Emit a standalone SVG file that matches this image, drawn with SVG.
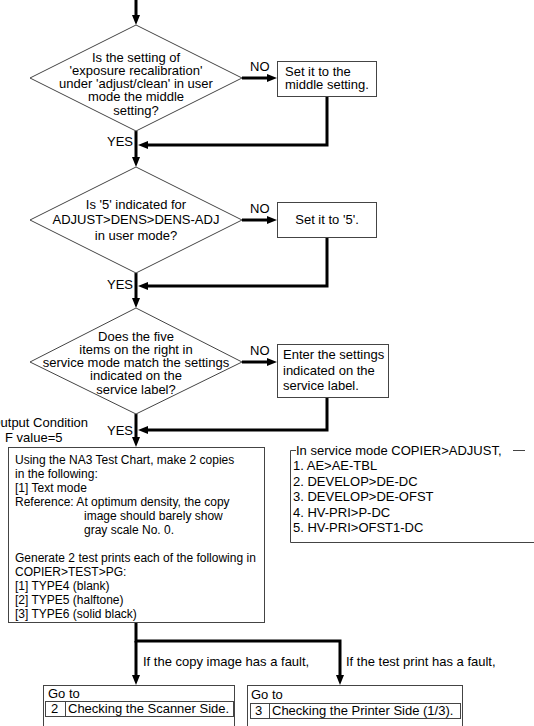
<svg xmlns="http://www.w3.org/2000/svg" width="534" height="726" viewBox="0 0 534 726">
<style>
text{font-family:"Liberation Sans",Arial,Helvetica,sans-serif;fill:#000}
.t13{font-size:13px}
.t12{font-size:12px}
.c{text-anchor:middle}
.shape{fill:#fff;stroke:#444;stroke-width:1}
.frame{fill:none;stroke:#444;stroke-width:1}
.conn{fill:none;stroke:#000;stroke-width:3}
</style>
<defs>
<marker id="ah" markerUnits="userSpaceOnUse" markerWidth="10" markerHeight="8" refX="3" refY="4" orient="auto">
<path d="M0,0 L10,4 L0,8 z" fill="#000"/>
</marker>
</defs>
<rect width="534" height="726" fill="#fff"/>

<g id="connectors">
<line class="conn" x1="136" y1="0" x2="136" y2="18" marker-end="url(#ah)"/>
<line class="conn" x1="242" y1="78" x2="270" y2="78" marker-end="url(#ah)"/>
<polyline class="conn" points="327,96 327,145 145,145" marker-end="url(#ah)"/>
<line class="conn" x1="136" y1="131" x2="136" y2="160" marker-end="url(#ah)"/>
<line class="conn" x1="242" y1="220" x2="270" y2="220" marker-end="url(#ah)"/>
<polyline class="conn" points="327,238 327,286 145,286" marker-end="url(#ah)"/>
<line class="conn" x1="136" y1="273" x2="136" y2="301" marker-end="url(#ah)"/>
<line class="conn" x1="242" y1="362" x2="270" y2="362" marker-end="url(#ah)"/>
<polyline class="conn" points="327,398 327,430 145,430" marker-end="url(#ah)"/>
<line class="conn" x1="136" y1="414" x2="136" y2="440" marker-end="url(#ah)"/>
<polyline class="conn" points="136,623 136,641 340,641 340,678" marker-end="url(#ah)"/>
<line class="conn" x1="136" y1="641" x2="136" y2="678" marker-end="url(#ah)"/>
<text class="t13" x="250" y="71">NO</text>
<text class="t13" x="250" y="213">NO</text>
<text class="t13" x="250" y="355">NO</text>
<text class="t13" x="107" y="146">YES</text>
<text class="t13" x="107" y="289">YES</text>
<text class="t13" x="107" y="435">YES</text>
<text class="t13" x="143" y="666">If the copy image has a fault,</text>
<text class="t13" x="346" y="666">If the test print has a fault,</text>
</g>

<g id="d1">
<polygon class="shape" points="136,25 242,78 136,131 30,78"/>
<text class="t13 c" x="136" y="61.5">Is the setting of</text>
<text class="t13 c" x="136" y="74.8">'exposure recalibration'</text>
<text class="t13 c" x="136" y="88.1">under 'adjust/clean' in user</text>
<text class="t13 c" x="136" y="101.4">mode the middle</text>
<text class="t13 c" x="136" y="114.7">setting?</text>
</g>

<g id="b1">
<rect class="shape" x="277.5" y="61.5" width="99" height="35"/>
<text class="t13" x="285" y="75.5">Set it to the</text>
<text class="t13" x="285" y="89">middle setting.</text>
</g>

<g id="d2">
<polygon class="shape" points="136,167 242,220 136,273 30,220"/>
<text class="t13 c" x="136" y="208.5">Is '5' indicated for</text>
<text class="t13 c" x="136" y="224">ADJUST&gt;DENS&gt;DENS-ADJ</text>
<text class="t13 c" x="136" y="239.5">in user mode?</text>
</g>

<g id="b2">
<rect class="shape" x="277.5" y="202.5" width="99" height="35"/>
<text class="t13 c" x="327" y="224">Set it to '5'.</text>
</g>

<g id="d3">
<polygon class="shape" points="136,308 242,362 136,414 30,362"/>
<text class="t13 c" x="136" y="340.5">Does the five</text>
<text class="t13 c" x="136" y="353.8">items on the right in</text>
<text class="t13 c" x="136" y="367">service mode match the settings</text>
<text class="t13 c" x="136" y="380.3">indicated on the</text>
<text class="t13 c" x="136" y="393.6">service label?</text>
</g>

<g id="b3">
<rect class="shape" x="277.5" y="344.5" width="111" height="53"/>
<text class="t13" x="283" y="359">Enter the settings</text>
<text class="t13" x="283" y="375">indicated on the</text>
<text class="t13" x="283" y="390">service label.</text>
</g>

<g id="output-condition">
<text class="t13" x="88" y="427" text-anchor="end">Output Condition</text>
<text class="t13" x="5" y="442">F value=5</text>
</g>

<g id="b4">
<rect class="shape" x="8.5" y="447.5" width="256" height="175"/>
<text class="t12" x="15" y="464">Using the NA3 Test Chart, make 2 copies</text>
<text class="t12" x="15" y="478">in the following:</text>
<text class="t12" x="15" y="492">[1] Text mode</text>
<text class="t12" x="15" y="506">Reference: At optimum density, the copy</text>
<text class="t12" x="84" y="520">image should barely show</text>
<text class="t12" x="84" y="534">gray scale No. 0.</text>
<text class="t12" x="15" y="562">Generate 2 test prints each of the following in</text>
<text class="t12" x="15" y="576">COPIER&gt;TEST&gt;PG:</text>
<text class="t12" x="15" y="590">[1] TYPE4 (blank)</text>
<text class="t12" x="15" y="604">[2] TYPE5 (halftone)</text>
<text class="t12" x="15" y="618">[3] TYPE6 (solid black)</text>
</g>

<g id="b5">
<path class="frame" d="M296,450.5 H290.5 V542.5 H540 M513,450.5 H525"/>
<text class="t13" x="296" y="455">In service mode COPIER&gt;ADJUST,</text>
<text class="t13" x="293" y="470">1. AE&gt;AE-TBL</text>
<text class="t13" x="293" y="486">2. DEVELOP&gt;DE-DC</text>
<text class="t13" x="293" y="501">3. DEVELOP&gt;DE-OFST</text>
<text class="t13" x="293" y="517">4. HV-PRI&gt;P-DC</text>
<text class="t13" x="293" y="532">5. HV-PRI&gt;OFST1-DC</text>
</g>

<g id="b6">
<rect class="shape" x="43.5" y="685.5" width="191" height="50"/>
<text class="t13" x="48" y="698">Go to</text>
<rect class="frame" x="45.5" y="701.5" width="188" height="15"/>
<line class="frame" x1="65.5" y1="701.5" x2="65.5" y2="716.5"/>
<text class="t13" x="51" y="713">2</text>
<text class="t13" x="68" y="713">Checking the Scanner Side.</text>
</g>

<g id="b7">
<rect class="shape" x="247.5" y="685.5" width="215" height="50"/>
<text class="t13" x="251" y="699">Go to</text>
<rect class="frame" x="250.5" y="703.5" width="210" height="15"/>
<line class="frame" x1="269.5" y1="703.5" x2="269.5" y2="718.5"/>
<text class="t13" x="255" y="715">3</text>
<text class="t13" x="272" y="715">Checking the Printer Side (1/3).</text>
</g>
</svg>
